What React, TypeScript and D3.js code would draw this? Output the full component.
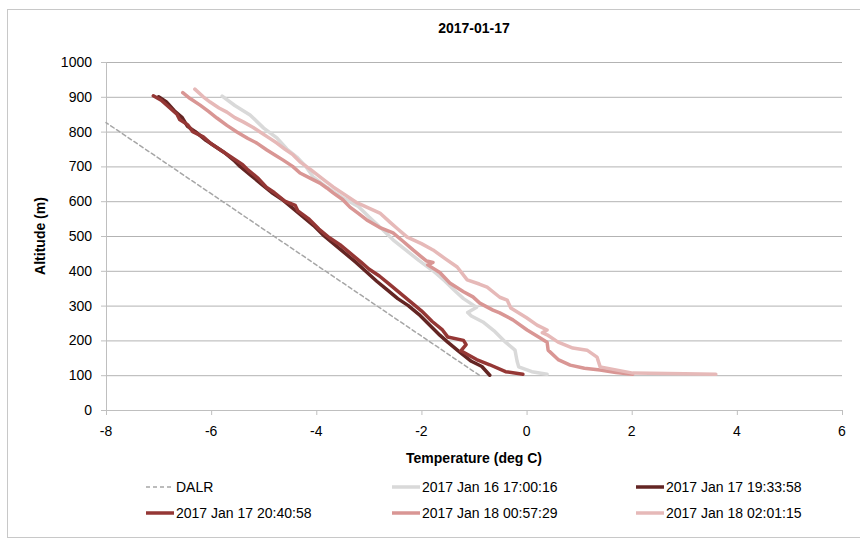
import React from "react";
import * as d3 from "d3";

const title = "2017-01-17";
const xTicks = [-8, -6, -4, -2, 0, 2, 4, 6];
const yTicks = [0, 100, 200, 300, 400, 500, 600, 700, 800, 900, 1000];

const seriesNames = [
  "DALR",
  "2017 Jan 16 17:00:16",
  "2017 Jan 17 19:33:58",
  "2017 Jan 17 20:40:58",
  "2017 Jan 18 00:57:29",
  "2017 Jan 18 02:01:15",
];
const seriesColors = ["#a6a6a6", "#d9d9d9", "#632523", "#953735", "#d99694", "#e6b9b8"];

// [temperature degC, altitude m]
const dalr: [number, number][] = [[-0.9, 100], [-8, 826]];

const jan16_1700: [number, number][] = [
  [-5.79, 902], [-5.55, 875], [-5.26, 848], [-5.0, 810], [-4.75, 782], [-4.56, 750], [-4.37, 727],
  [-4.2, 700], [-4.06, 670], [-3.8, 640], [-3.5, 610], [-3.2, 585], [-3.0, 555], [-2.75, 520],
  [-2.54, 489], [-2.3, 460], [-2.05, 430], [-1.78, 400], [-1.55, 370], [-1.38, 345], [-1.2, 320],
  [-1.0, 300], [-0.95, 295], [-1.12, 280], [-1.05, 270], [-0.83, 253], [-0.6, 225], [-0.4, 195],
  [-0.22, 172], [-0.18, 140], [-0.15, 124], [0.1, 110], [0.39, 103],
];

const jan17_1933: [number, number][] = [
  [-7.0, 900], [-6.85, 885], [-6.7, 860], [-6.55, 840], [-6.45, 815], [-6.3, 800], [-6.1, 775],
  [-5.95, 760], [-5.75, 740], [-5.55, 715], [-5.45, 700], [-5.25, 675], [-5.05, 650], [-4.85, 625],
  [-4.65, 605], [-4.45, 580], [-4.25, 555], [-4.05, 530], [-3.85, 500], [-3.65, 475], [-3.45, 450],
  [-3.25, 425], [-3.07, 400], [-2.85, 370], [-2.65, 345], [-2.45, 320], [-2.25, 300], [-2.05, 275],
  [-1.85, 245], [-1.65, 215], [-1.5, 195], [-1.3, 170], [-1.05, 140], [-0.85, 125], [-0.7, 100],
];

const jan17_2040: [number, number][] = [
  [-7.1, 903], [-6.95, 890], [-6.8, 870], [-6.65, 850], [-6.6, 835], [-6.45, 820], [-6.35, 800],
  [-6.15, 785], [-6.0, 765], [-5.8, 745], [-5.6, 725], [-5.4, 705], [-5.3, 690], [-5.1, 665],
  [-4.95, 640], [-4.8, 625], [-4.6, 600], [-4.4, 588], [-4.35, 572], [-4.15, 550], [-3.95, 520],
  [-3.75, 495], [-3.55, 475], [-3.35, 450], [-3.15, 425], [-3.0, 405], [-2.8, 385], [-2.6, 360],
  [-2.4, 335], [-2.2, 310], [-2.0, 285], [-1.8, 255], [-1.6, 230], [-1.5, 210], [-1.2, 200],
  [-1.15, 188], [-1.25, 170], [-0.95, 145], [-0.7, 130], [-0.4, 110], [-0.07, 103],
];

const jan18_0057: [number, number][] = [
  [-6.54, 912], [-6.4, 895], [-6.21, 876], [-6.05, 858], [-5.89, 839], [-5.7, 818], [-5.51, 799],
  [-5.3, 780], [-5.13, 767], [-4.94, 747], [-4.78, 732], [-4.63, 718], [-4.45, 700], [-4.31, 681],
  [-4.1, 665], [-3.93, 652], [-3.8, 638], [-3.68, 624], [-3.5, 605], [-3.36, 583], [-3.2, 565],
  [-3.04, 546], [-2.8, 525], [-2.54, 509], [-2.35, 485], [-2.16, 460], [-2.0, 440], [-1.9, 428],
  [-1.78, 424], [-1.88, 417], [-1.65, 395], [-1.46, 365], [-1.2, 340], [-1.02, 325], [-0.89, 307],
  [-0.64, 287], [-0.51, 279], [-0.26, 259], [0.01, 230], [0.26, 207], [0.39, 195], [0.41, 172],
  [0.6, 145], [0.83, 129], [1.1, 120], [1.4, 115], [1.7, 108], [2.02, 103],
];

const jan18_0201: [number, number][] = [
  [-6.31, 922], [-6.15, 900], [-6.02, 885], [-5.85, 868], [-5.7, 856], [-5.55, 840], [-5.39, 828],
  [-5.2, 812], [-5.07, 799], [-4.9, 782], [-4.75, 767], [-4.6, 750], [-4.44, 733], [-4.31, 713],
  [-4.1, 690], [-3.93, 670], [-3.8, 655], [-3.68, 641], [-3.45, 618], [-3.22, 595], [-3.0, 580],
  [-2.79, 566], [-2.6, 540], [-2.45, 520], [-2.27, 497], [-2.0, 478], [-1.78, 460], [-1.55, 435],
  [-1.32, 411], [-1.13, 374], [-0.9, 362], [-0.75, 353], [-0.51, 324], [-0.37, 316], [-0.3, 293],
  [0.0, 265], [0.2, 244], [0.39, 230], [0.3, 222], [0.39, 216], [0.6, 195], [0.88, 178],
  [1.15, 172], [1.34, 152], [1.4, 124], [2.02, 106], [3.0, 104], [3.6, 103],
];

const seriesData = [dalr, jan16_1700, jan17_1933, jan17_2040, jan18_0057, jan18_0201];

const W = 860;
const H = 540;
const FONT = "'Liberation Sans', Arial, sans-serif";

export default function App() {
  const x = d3.scaleLinear().domain([-8, 6]).range([106, 842]);
  const y = d3.scaleLinear().domain([0, 1000]).range([410, 62]);
  const line = d3
    .line<[number, number]>()
    .x((d) => x(d[0]))
    .y((d) => y(d[1]));

  const legendCols = [146, 392, 636];
  const legendRows = [487, 513];

  return (
    <svg
      width={W}
      height={H}
      style={{ position: "absolute", left: 0, top: 0, background: "#fff" }}
      fontFamily={FONT}
    >
      <rect x={7.5} y={9.5} width={W} height={528} fill="#fff" stroke="#c8c8c8" strokeWidth={1} />
      <text x={474} y={33} textAnchor="middle" fontSize={14} fontWeight="bold" fill="#000">
        {title}
      </text>

      {yTicks.filter((t) => t > 0).map((t) => (
        <line key={"g" + t} x1={106} x2={842} y1={y(t) + 0.5} y2={y(t) + 0.5} stroke="#b3b3b3" strokeWidth={1} />
      ))}

      <line x1={106.5} x2={106.5} y1={y(1000)} y2={y(0) + 0.5} stroke="#bfbfbf" />
      <line x1={106} x2={842} y1={y(0) + 0.5} y2={y(0) + 0.5} stroke="#bfbfbf" />
      {yTicks.map((t) => (
        <g key={"y" + t}>
          <line x1={101} x2={106} y1={y(t) + 0.5} y2={y(t) + 0.5} stroke="#bfbfbf" />
          <text x={92} y={y(t) + 5} textAnchor="end" fontSize={14} fill="#000">
            {t}
          </text>
        </g>
      ))}
      {xTicks.map((t) => (
        <g key={"x" + t}>
          <line x1={x(t) + 0.5} x2={x(t) + 0.5} y1={y(0)} y2={y(0) + 5} stroke="#bfbfbf" />
          <text x={x(t)} y={436} textAnchor="middle" fontSize={14} fill="#000">
            {t}
          </text>
        </g>
      ))}

      <text
        transform={`translate(45,236) rotate(-90)`}
        textAnchor="middle"
        fontSize={14}
        fontWeight="bold"
        fill="#000"
      >
        Altitude (m)
      </text>
      <text x={474} y={463} textAnchor="middle" fontSize={14} fontWeight="bold" fill="#000">
        Temperature (deg C)
      </text>

      {seriesData.map((d, i) => (
        <path
          key={"s" + i}
          d={line(d) || ""}
          fill="none"
          stroke={seriesColors[i]}
          strokeWidth={i === 0 ? 1.5 : 3.5}
          strokeDasharray={i === 0 ? "4,3" : undefined}
          strokeLinejoin="round"
          strokeLinecap="round"
        />
      ))}

      {seriesNames.map((name, i) => {
        const cx = legendCols[i % 3];
        const cy = legendRows[Math.floor(i / 3)];
        return (
          <g key={"l" + i}>
            <line
              x1={cx}
              x2={cx + 28}
              y1={cy}
              y2={cy}
              stroke={seriesColors[i]}
              strokeWidth={i === 0 ? 1.5 : 3.5}
              strokeDasharray={i === 0 ? "4,3" : undefined}
            />
            <text x={cx + 30} y={cy + 5} fontSize={14} fill="#000">
              {name}
            </text>
          </g>
        );
      })}
    </svg>
  );
}
